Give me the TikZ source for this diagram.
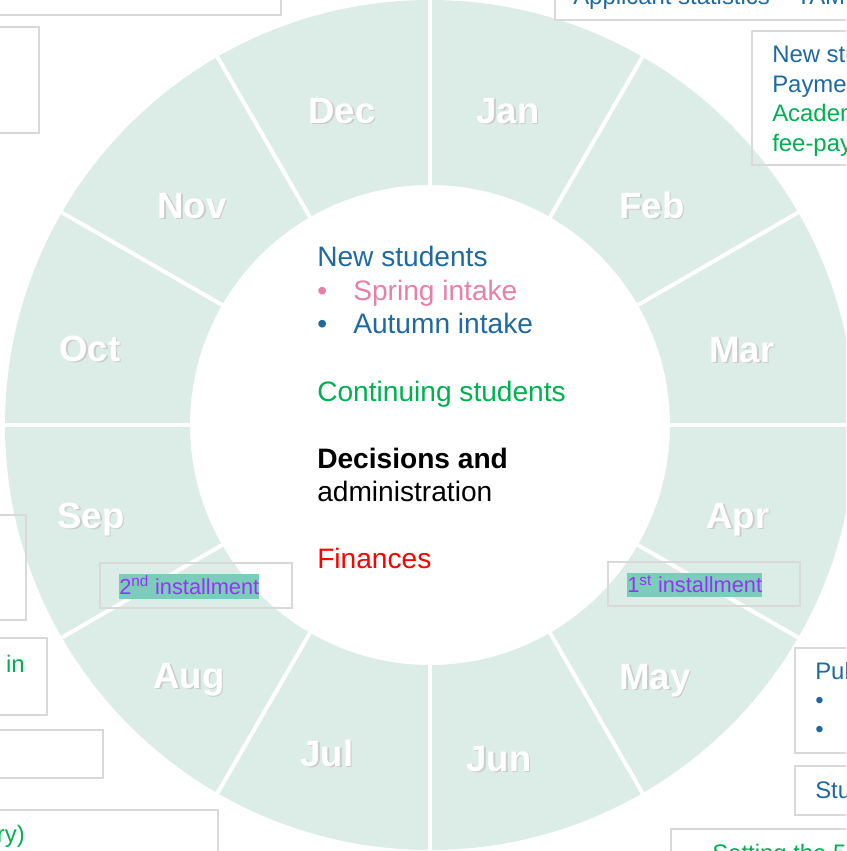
\documentclass[tikz,border=0pt]{standalone}
\usepackage{fontspec}
\setmainfont{Liberation Sans}
\usetikzlibrary{positioning}
\definecolor{wheel}{HTML}{DCEDE8}
\definecolor{boxgray}{HTML}{D9D9D9}
\definecolor{nsblue}{HTML}{1F69A1}
\definecolor{nspink}{HTML}{E77FAA}
\definecolor{csgreen}{HTML}{00B050}
\definecolor{finred}{HTML}{FF0000}
\definecolor{instpurple}{HTML}{9B2FFF}
\definecolor{insthl}{HTML}{7BCDBA}
\tikzstyle{divider} = [draw=white, line width=0.1cm]
\tikzstyle{month} = [text=white, inner sep=0pt, text height=18.6pt, text depth=0pt, font=\fontsize{26}{30}\selectfont\bfseries]
\tikzstyle{monthshadow} = [month, text=black!20]
\tikzstyle{cbox} = [draw=boxgray, line width=0.05cm]
\tikzstyle{ctext} = [inner sep=0pt, anchor=base west, font=\fontsize{20}{24}\selectfont]
\tikzstyle{stext} = [inner sep=0pt, anchor=base west, font=\fontsize{17}{21}\selectfont]
\tikzstyle{install} = [fill=insthl, text=instpurple, inner sep=0pt, text height=14pt, text depth=3.3pt, anchor=west, font=\fontsize{15.5}{18}\selectfont]

\begin{document}
\begin{tikzpicture}
\useasboundingbox (-10.75,-10.65) rectangle (10.4,10.625);
\clip (-10.75,-10.65) rectangle (10.4,10.625);

% month wheel
\fill[wheel, even odd rule] (0,0) circle (10.625) (0,0) circle (6);
\foreach \a in {0,30,...,330}
  \draw[divider] (\a:5.9) -- (\a:10.8);
\foreach \m/\x/\y in {Jan/1.95/7.875, Feb/5.55/5.5, Mar/7.8/1.9, Apr/7.7/-2.25,
    May/5.625/-6.275, Jun/1.725/-8.325, Jul/-2.575/-8.2, Aug/-6.025/-6.25,
    Sep/-8.475/-2.25, Oct/-8.5/1.925, Nov/-5.95/5.5, Dec/-2.2/7.875} {
  \node[monthshadow] (\m s) at (\x+0.04,\y-0.04) {\m};
  \node[month] (\m) at (\x,\y) {\m};
}

% legend in the middle
\node (newst) [ctext, text=nsblue] at (-2.825,3.95) {New students};
\node (b1) [ctext, text=nspink, below=0.8375cm of newst.base west, anchor=base west] {•};
\node (spring) [ctext, text=nspink, below=0.8375cm of newst.base west, xshift=0.9cm, anchor=base west] {Spring intake};
\node (b2) [ctext, text=nsblue, below=0.8375cm of b1.base west, anchor=base west] {•};
\node (autumn) [ctext, text=nsblue, below=0.8375cm of spring.base west, anchor=base west] {Autumn intake};
\node (cont) [ctext, text=csgreen, below=1.675cm of b2.base west, anchor=base west] {Continuing students};
\node (dec1) [ctext, below=1.675cm of cont.base west, anchor=base west] {\bfseries Decisions and};
\node (dec2) [ctext, below=0.8375cm of dec1.base west, anchor=base west] {administration};
\node (fin) [ctext, text=finred, below=1.675cm of dec2.base west, anchor=base west] {Finances};

% installments
\draw[cbox] (-8.25,-3.45) rectangle (-3.45,-4.575);
\node (inst2) [install] at (-7.775,-4.0375) {2\textsuperscript{nd} installment};
\draw[cbox] (4.45,-3.425) rectangle (9.25,-4.525);
\node (inst1) [install] at (4.925,-4.0) {1\textsuperscript{st} installment};

% boxes round the wheel
\draw[cbox] (-11,10.25) rectangle (-3.725,11);
\node (tl) [stext, text=finred, anchor=base east] at (-10.65,10.675) {)};
\draw[cbox] (-11,9.95) rectangle (-9.775,7.3);
\draw[cbox] (3.125,10.125) rectangle (11,11);
\node (appl) [stext, text=nsblue] at (3.575,10.5) {Applicant statistics – TAM};
\draw[cbox] (8.05,9.85) rectangle (11,6.5);
\node (r1a) [stext, text=nsblue] at (8.55,9.05) {New students};
\node (r1b) [stext, text=nsblue, below=0.7375cm of r1a.base west, anchor=base west] {Payments};
\node (r1c) [stext, text=csgreen, below=0.7375cm of r1b.base west, anchor=base west] {Academic};
\node (r1d) [stext, text=csgreen, below=0.7375cm of r1c.base west, anchor=base west] {fee-paying};
\draw[cbox] (-11,-2.25) rectangle (-10.1,-4.875);
\draw[cbox] (-11,-5.325) rectangle (-9.575,-7.25);
\node (l3) [stext, text=csgreen, anchor=base east] at (-10.125,-6.175) {in};
\draw[cbox] (-11,-7.625) rectangle (-8.175,-8.825);
\draw[cbox] (-11,-9.625) rectangle (-5.3,-11);
\node (bl) [stext, text=csgreen, anchor=base east] at (-10.125,-10.425) {ry)};
\draw[cbox] (9.125,-5.575) rectangle (11,-8.2);
\node (r2a) [stext, text=nsblue] at (9.625,-6.35) {Public};
\node (r2b) [stext, text=nsblue, below=0.725cm of r2a.base west, anchor=base west] {•};
\node (r2c) [stext, text=nsblue, below=0.725cm of r2b.base west, anchor=base west] {•};
\draw[cbox] (9.125,-8.525) rectangle (11,-9.75);
\node (r3) [stext, text=nsblue] at (9.625,-9.325) {Students};
\draw[cbox] (6.025,-10.1) rectangle (11,-11);
\node (br) [stext, text=csgreen] at (7.05,-10.9) {Setting the 5\%};
\end{tikzpicture}
\end{document}
